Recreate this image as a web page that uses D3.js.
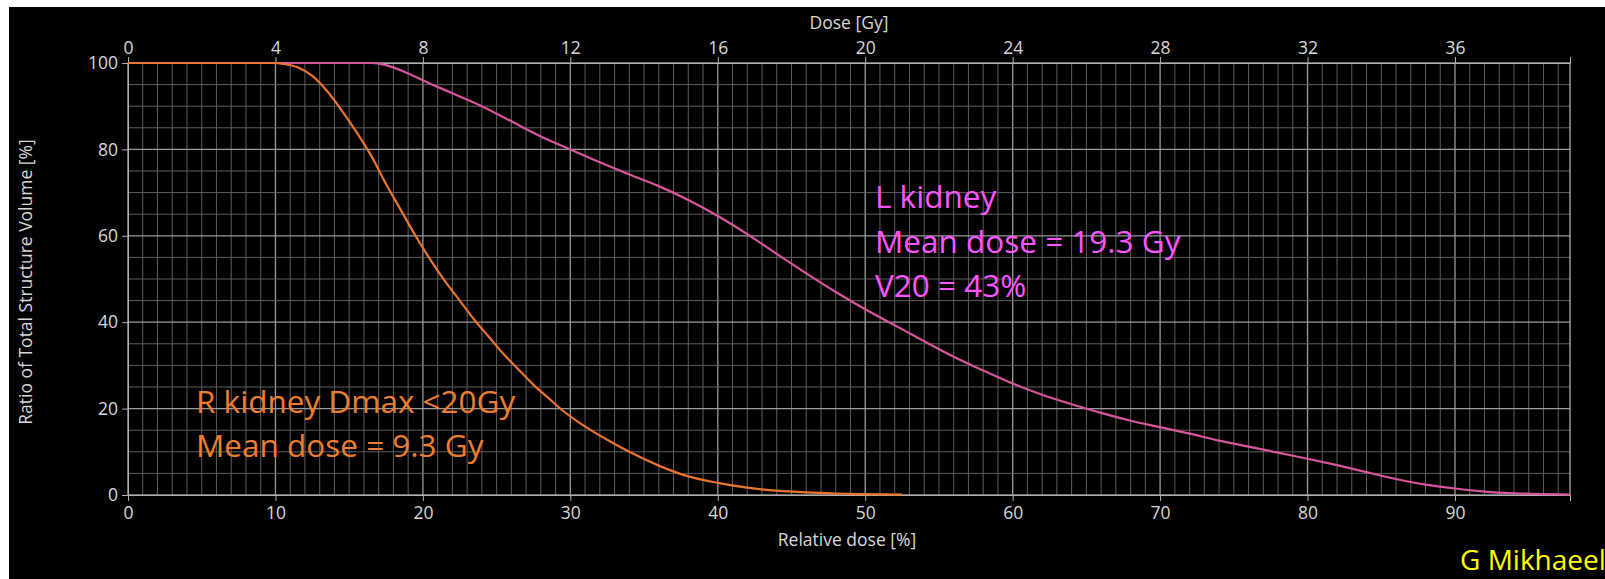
<!DOCTYPE html>
<html>
<head>
<meta charset="utf-8">
<script src="https://cdn.jsdelivr.net/npm/d3@7"></script>
<style>
  body { margin: 0; background: #fff; }
  svg { display: block; }
</style>
</head>
<body>
<div class="canvas"></div>
<script>
// relative dose [%] and volume [%]
const rDose = [0, 10, 10.5, 11.5, 12.5, 13.5, 14.5, 15.5, 16.5, 17.5, 18.5, 19.5, 20.5, 21.5, 22.5, 23.5, 24.5, 25.5, 26.5, 27.5, 28.5, 29.5, 30.5, 31.5, 32.5, 34, 36, 38, 40, 42, 44, 46, 48, 50, 52.5]
const rVol = [100, 100, 99.8, 99, 97, 93.5, 89, 84, 78.5, 72, 66, 60, 54.5, 49.5, 45, 40.5, 36.5, 32.5, 29, 25.5, 22.5, 19.5, 17, 14.8, 12.8, 10, 6.8, 4.3, 2.8, 1.7, 1, 0.6, 0.35, 0.2, 0.1]
const lDose = [0, 16.5, 17.5, 18.5, 19.5, 20.5, 22, 24, 26, 28, 30, 32, 34, 36, 38, 40, 42, 44, 46, 48, 50, 52, 54, 56, 58, 60, 62, 64, 66, 68, 70, 72, 74, 76, 78, 80, 82, 84, 86, 88, 90, 92, 94, 96, 97.8]
const lVol = [100, 100, 99.5, 98.3, 96.8, 95.2, 93, 90, 86.5, 83, 80, 77, 74.2, 71.5, 68.3, 64.6, 60.4, 55.8, 51.3, 47, 43, 39.3, 35.6, 32, 28.8, 25.8, 23.2, 21, 19, 17.2, 15.7, 14.2, 12.6, 11.2, 9.8, 8.4, 6.9, 5.3, 3.7, 2.4, 1.5, 0.8, 0.4, 0.2, 0.1]
const relTicks = [0, 10, 20, 30, 40, 50, 60, 70, 80, 90]
const gyTicks = [0, 4, 8, 12, 16, 20, 24, 28, 32, 36]
const volTicks = [0, 20, 40, 60, 80, 100]
const prescription = 40 // Gy at 100 %

const W = 1605, H = 579
const svg = d3.select(".canvas")
    .append("svg")
    .attr("width", W)
    .attr("height", H)

svg.append("rect").attr("x", 9).attr("y", 7).attr("width", W - 9).attr("height", H - 7).attr("fill", "#000")

const x = d3.scaleLinear().domain([0, 97.8]).range([128, 1570])
const xGy = d3.scaleLinear().domain([0, 97.8 * prescription / 100]).range([128, 1570])
const y = d3.scaleLinear().domain([0, 100]).range([495, 63])

// grid
const grid = svg.append("g")
grid.selectAll(".vminor")
    .data(d3.range(1, 98))
    .enter().append("line")
    .attr("x1", d => x(d)).attr("x2", d => x(d))
    .attr("y1", y(0)).attr("y2", y(100))
    .attr("stroke", d => d % 10 == 0 ? "#9a9a9a" : "#5e5e5e")
    .attr("stroke-width", d => d % 10 == 0 ? 1.3 : 1)
grid.selectAll(".hminor")
    .data(d3.range(5, 100, 5))
    .enter().append("line")
    .attr("x1", x(0)).attr("x2", x(97.8))
    .attr("y1", d => y(d)).attr("y2", d => y(d))
    .attr("stroke", d => d % 20 == 0 ? "#9a9a9a" : "#5e5e5e")
    .attr("stroke-width", d => d % 20 == 0 ? 1.3 : 1)
grid.append("rect")
    .attr("x", x(0)).attr("y", y(100))
    .attr("width", x(97.8) - x(0)).attr("height", y(0) - y(100))
    .attr("fill", "none").attr("stroke", "#b0b0b0").attr("stroke-width", 1.3)

// axes
const font = "'Open Sans', sans-serif"
function styleAxis(g) {
    g.select(".domain").attr("stroke", "#b0b0b0")
    g.selectAll(".tick line").attr("stroke", "#b0b0b0")
    g.selectAll("text").attr("fill", "#d8d8d8").style("font-family", font).style("font-size", "17.5px")
}
svg.append("g")
    .attr("transform", `translate(0, ${y(0)})`)
    .call(d3.axisBottom(x).tickValues(relTicks).tickSize(6).tickPadding(6))
    .call(styleAxis)
svg.append("g")
    .attr("transform", `translate(0, ${y(100)})`)
    .call(d3.axisTop(xGy).tickValues(gyTicks).tickSize(6).tickPadding(3))
    .call(styleAxis)
svg.append("g")
    .attr("transform", `translate(${x(0)}, 0)`)
    .call(d3.axisLeft(y).tickValues(volTicks).tickSize(6).tickPadding(4))
    .call(styleAxis)

svg.append("text").text("Dose [Gy]")
    .attr("x", 849).attr("y", 29).attr("text-anchor", "middle")
    .attr("fill", "#d8d8d8").style("font-family", font).style("font-size", "17.5px")
svg.append("text").text("Relative dose [%]")
    .attr("x", 847).attr("y", 546).attr("text-anchor", "middle")
    .attr("fill", "#d8d8d8").style("font-family", font).style("font-size", "17.5px")
svg.append("text").text("Ratio of Total Structure Volume [%]")
    .attr("transform", "translate(32, 282) rotate(-90)").attr("text-anchor", "middle")
    .attr("fill", "#d8d8d8").style("font-family", font).style("font-size", "17.5px")

// curves
const line = d3.line()
    .x(d => x(d[0]))
    .y(d => y(d[1]))
    .curve(d3.curveMonotoneX)
svg.append("path")
    .datum(lDose.map((d, i) => [d, lVol[i]]))
    .attr("d", line)
    .attr("fill", "none").attr("stroke", "#d8569c").attr("stroke-width", 2.2)
svg.append("path")
    .datum(rDose.map((d, i) => [d, rVol[i]]))
    .attr("d", line)
    .attr("fill", "none").attr("stroke", "#ea7430").attr("stroke-width", 2.2)

// annotations
const pink = ["L kidney", "Mean dose = 19.3 Gy", "V20 = 43%"]
svg.append("g").selectAll("text")
    .data(pink)
    .enter().append("text")
    .text(d => d)
    .attr("x", 875).attr("y", (d, i) => 208 + i * 44.5)
    .attr("fill", "#ff55ff").style("font-family", font).style("font-size", "31.5px")
const orange = ["R kidney Dmax <20Gy", "Mean dose = 9.3 Gy"]
svg.append("g").selectAll("text")
    .data(orange)
    .enter().append("text")
    .text(d => d)
    .attr("x", 196).attr("y", (d, i) => 413 + i * 44)
    .attr("fill", "#ed7d31").style("font-family", font).style("font-size", "31.5px")

svg.append("text").text("G Mikhaeel")
    .attr("x", 1460).attr("y", 570)
    .attr("fill", "#ffff00").style("font-family", font).style("font-size", "28px")
</script>
</body>
</html>
